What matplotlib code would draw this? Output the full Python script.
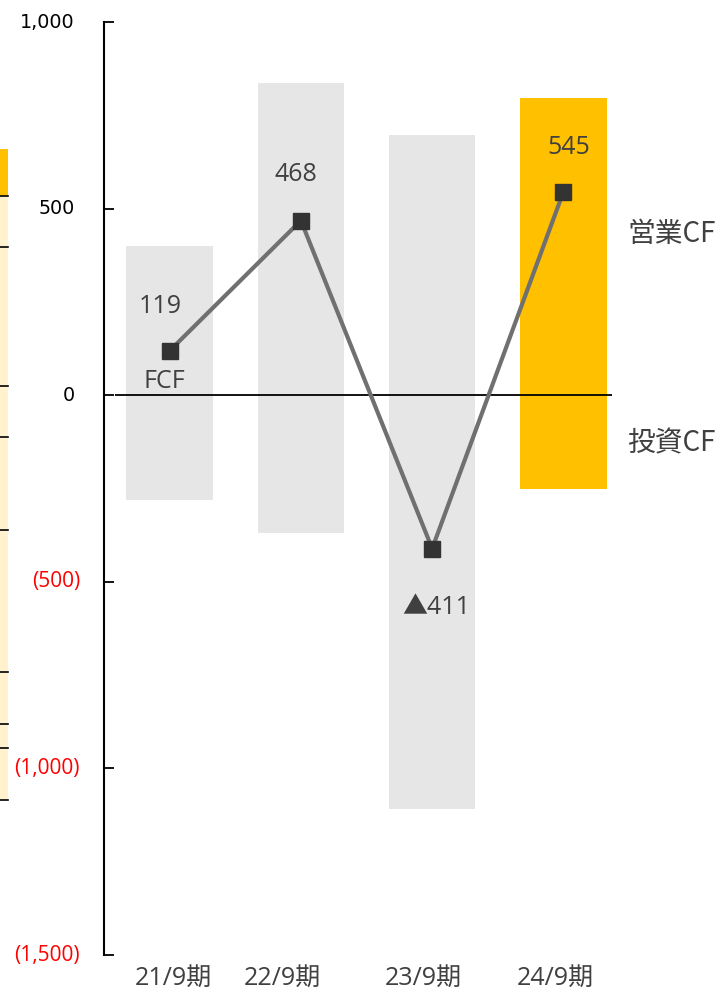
import matplotlib
matplotlib.use("Agg")
import matplotlib.pyplot as plt
from matplotlib.patches import Rectangle
from matplotlib.lines import Line2D
import matplotlib.transforms as mtransforms

plt.rcParams['font.family'] = ['Noto Sans CJK JP', 'DejaVu Sans']

categories = ["21/9期", "22/9期", "23/9期", "24/9期"]
operating_cf = [400, 836, 697, 797]
investing_cf = [-281, -368, -1108, -252]
fcf = [119, 468, -411, 545]
fcf_labels = ["119", "468", "▲411", "545"]
yticks = [1000, 500, 0, -500, -1000, -1500]
ytick_labels = ["1,000", "500", "0", "(500)", "(1,000)", "(1,500)"]

W, H = 723, 990
fig = plt.figure(figsize=(W / 100, H / 100), dpi=100)

# cropped table strip at left edge (decoration from source slide)
def px_rect(x0, y0, x1, y1, color):
    fig.patches.append(Rectangle((x0 / W, 1 - y1 / H), (x1 - x0) / W, (y1 - y0) / H,
                                 transform=fig.transFigure, facecolor=color,
                                 edgecolor='none', zorder=0))
px_rect(0, 149, 8, 196, '#FFC000')
px_rect(0, 196, 8, 800, '#FFF2CC')
for yy in [196, 247, 386, 437, 530, 672, 724, 748, 800]:
    fig.lines.append(Line2D([0, 8 / W], [1 - yy / H, 1 - yy / H], transform=fig.transFigure,
                            color='black', lw=1.2))

AX_L, AX_R, AX_T, AX_B = 104, 612, 22, 955
ax = fig.add_axes([AX_L / W, 1 - AX_B / H, (AX_R - AX_L) / W, (AX_B - AX_T) / H])
x = list(range(len(categories)))
bar_colors = ['#E6E6E6', '#E6E6E6', '#E6E6E6', '#FFC000']
ax.bar(x, operating_cf, width=0.66, color=bar_colors, zorder=1)
ax.bar(x, investing_cf, width=0.66, color=bar_colors, zorder=1)
ax.hlines(0, -0.42, 3.37, color='black', lw=1.3, zorder=2)
ax.plot(x, fcf, color='#707070', lw=3, marker='s', markersize=12,
        markerfacecolor='#333333', markeredgecolor='#333333', zorder=3)

ax.set_xlim(-0.5, 3.37)
ax.set_ylim(-1500, 1000)
for s in ['top', 'right', 'bottom']:
    ax.spines[s].set_visible(False)
ax.spines['left'].set_linewidth(1.5)
ax.set_yticks(yticks)
ax.set_yticklabels([])
ax.tick_params(axis='y', direction='in', length=7, width=1.3)
ax.set_xticks([])

# y tick labels
ytrans = mtransforms.blended_transform_factory(ax.transAxes, ax.transData)
for v, lab in zip(yticks, ytick_labels):
    if v < 0:
        ax.text((80 - AX_L) / (AX_R - AX_L), v, lab, transform=ytrans, ha='right', va='center',
                fontsize=15, color='#FF0000', family=['Open Sans'], clip_on=False)
    else:
        ax.text((75 - AX_L) / (AX_R - AX_L), v, lab, transform=ytrans, ha='right', va='center',
                fontsize=13.8, color='black', family=['DejaVu Sans'], clip_on=False)

# category labels
xtrans = mtransforms.blended_transform_factory(ax.transData, ax.transAxes)
cat_dx = [0.03, -0.14, -0.07, -0.06]
for i, (lab, dx) in enumerate(zip(categories, cat_dx)):
    ax.text(i + dx, -0.025, lab, transform=xtrans, ha='center', va='center', fontsize=18,
            color='#404040', family=['Open Sans', 'Noto Sans CJK JP'], clip_on=False)

# data labels
offsets = [(-0.07, 118), (-0.04, 123), (0.03, -158), (0.04, 119)]
for i, (lab, (dx, dy)) in enumerate(zip(fcf_labels, offsets)):
    ax.text(i + dx, fcf[i] + dy, lab, ha='center', va='center', fontsize=18, color='#404040',
            family=['Open Sans', 'Noto Sans CJK JP'])
ax.text(-0.04, 38, "FCF", ha='center', va='center', fontsize=18, color='#404040',
        family=['Open Sans'])

ax.text(3.487, 433, "営業CF", ha='left', va='center', fontsize=20, color='#404040', clip_on=False)
ax.text(3.487, -128, "投資CF", ha='left', va='center', fontsize=20, color='#404040', clip_on=False)

fig.savefig("out.png", dpi=100)
